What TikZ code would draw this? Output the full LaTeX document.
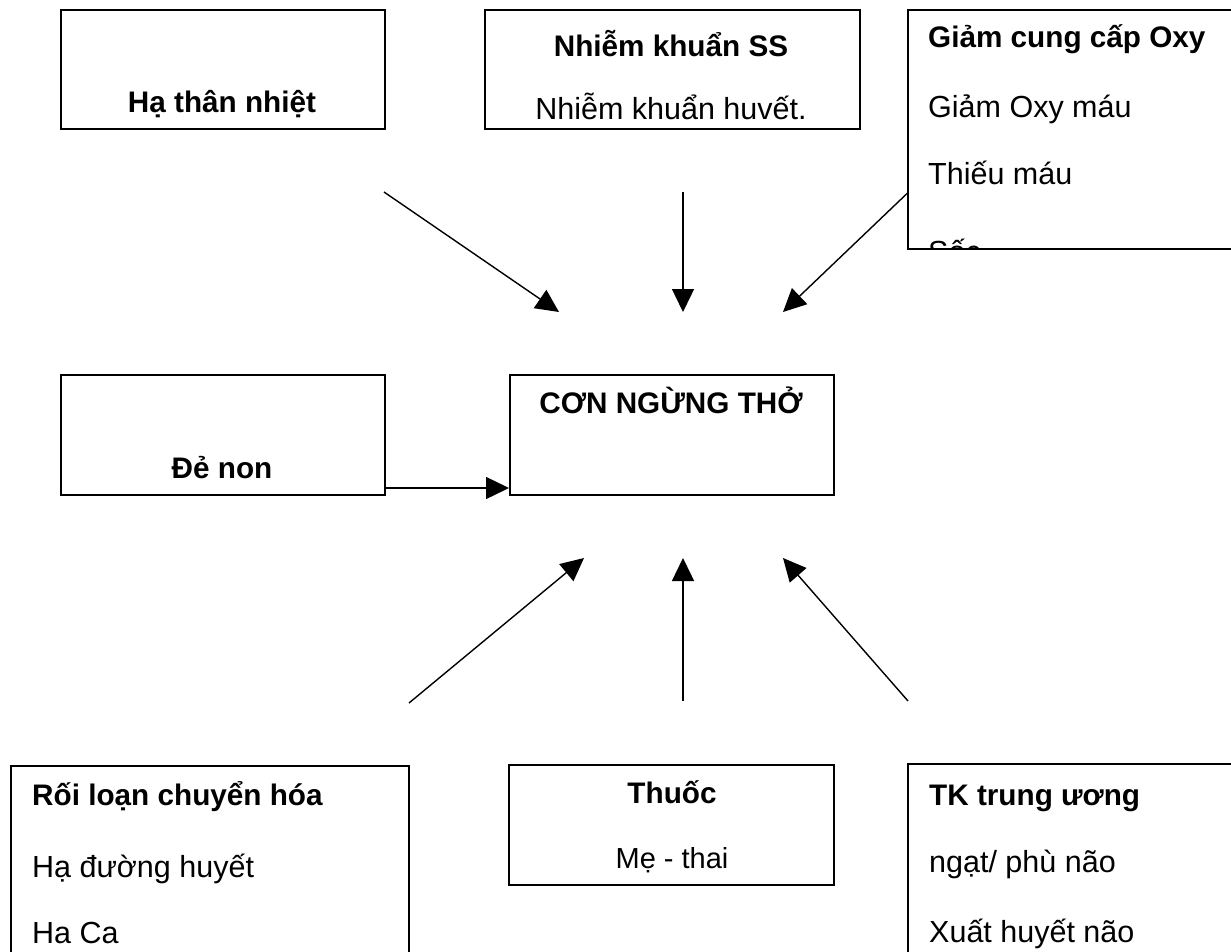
\documentclass[tikz,border=0pt]{standalone}
\usepackage{fontspec}
\setmainfont{Liberation Sans}
\usetikzlibrary{arrows.meta}
\begin{document}
\begin{tikzpicture}[x=1pt,y=-1pt,
  box/.style={draw, line width=1.6pt, fill=white, inner sep=0pt, anchor=north west},
  head/.style={font=\bfseries\fontsize{29.7}{34}\selectfont, inner sep=0pt},
  body/.style={font=\fontsize{30.5}{35}\selectfont, inner sep=0pt},
  small/.style={font=\fontsize{29}{33}\selectfont, inner sep=0pt},
  arr/.style={line width=1.4pt, -{Triangle[length=23pt,width=22pt]}}]
\clip (0,0) rectangle (1231,952);
\fill[white] (0,0) rectangle (1231,952);

% arrows from the causes towards the centre (drawn first, boxes cover them)
\coordinate (t1s) at (384,192);  \coordinate (t1e) at (559,312);
\coordinate (t2s) at (683,192);  \coordinate (t2e) at (683,312);
\coordinate (t3s) at (940,162);  \coordinate (t3e) at (783,312);
\coordinate (b1s) at (409,703);  \coordinate (b1e) at (584,558);
\coordinate (b2s) at (683,701);  \coordinate (b2e) at (683,558);
\coordinate (b3s) at (908,701);  \coordinate (b3e) at (783,558);
\draw[arr] (t1s) -- (t1e);
\draw[arr] (t2s) -- (t2e);
\draw[arr] (t3s) -- (t3e);
\draw[arr] (b1s) -- (b1e);
\draw[arr] (b2s) -- (b2e);
\draw[arr] (b3s) -- (b3e);

% top row
\node[box, minimum width=324pt, minimum height=119pt] (hypo) at (60,9) {};
\node[head, anchor=base] (hypoT) at (222,113) {Hạ thân nhiệt};

\node[box, minimum width=375pt, minimum height=119pt] (infect) at (484,9) {};
\node[head, anchor=base] (infectT) at (671,57) {Nhiễm khuẩn SS};
\node[body, anchor=base] (infectA) at (671,120) {Nhiễm khuẩn huvết.};

\node[box, minimum width=340pt, minimum height=239pt] (oxy) at (907,9) {};
\begin{scope}
  \clip (908,10) rectangle (1240,247);
  \node[head, anchor=base west] (oxyT) at (928,48) {Giảm cung cấp Oxy};
  \node[body, anchor=base west] (oxyA) at (928,118) {Giảm Oxy máu};
  \node[body, anchor=base west] (oxyB) at (928,185) {Thiếu máu};
  \node[body, anchor=base west] (oxyC) at (928,262) {Sốc};
\end{scope}

% middle row
\node[box, minimum width=324pt, minimum height=120pt] (prem) at (60,374) {};
\node[head, anchor=base] (premT) at (222,478) {Đẻ non};

\node[box, minimum width=324pt, minimum height=120pt] (apnea) at (509,374) {};
\node[head, anchor=base] (apneaT) at (671,413) {CƠN NGỪNG THỞ};

\coordinate (p1) at (384,488);
\coordinate (p2) at (509,488);
\draw[arr] (p1) -- (p2);

% bottom row
\node[box, minimum width=398pt, minimum height=200pt] (metab) at (10,765) {};
\node[head, anchor=base west] (metabT) at (32,805) {Rối loạn chuyển hóa};
\node[body, anchor=base west] (metabA) at (32,877) {Hạ đường huyết};
\node[body, anchor=base west] (metabB) at (32,943) {Ha Ca};

\node[box, minimum width=325pt, minimum height=120pt] (drug) at (508,764) {};
\node[head, anchor=base] (drugT) at (672,803) {Thuốc};
\node[small, anchor=base] (drugA) at (672,868) {Mẹ - thai};

\node[box, minimum width=340pt, minimum height=200pt] (cns) at (907,763) {};
\node[head, anchor=base west] (cnsT) at (929,805) {TK trung ương};
\node[body, anchor=base west] (cnsA) at (929,872) {ngạt/ phù não};
\node[body, anchor=base west] (cnsB) at (929,942) {Xuất huyết não};
\end{tikzpicture}
\end{document}
